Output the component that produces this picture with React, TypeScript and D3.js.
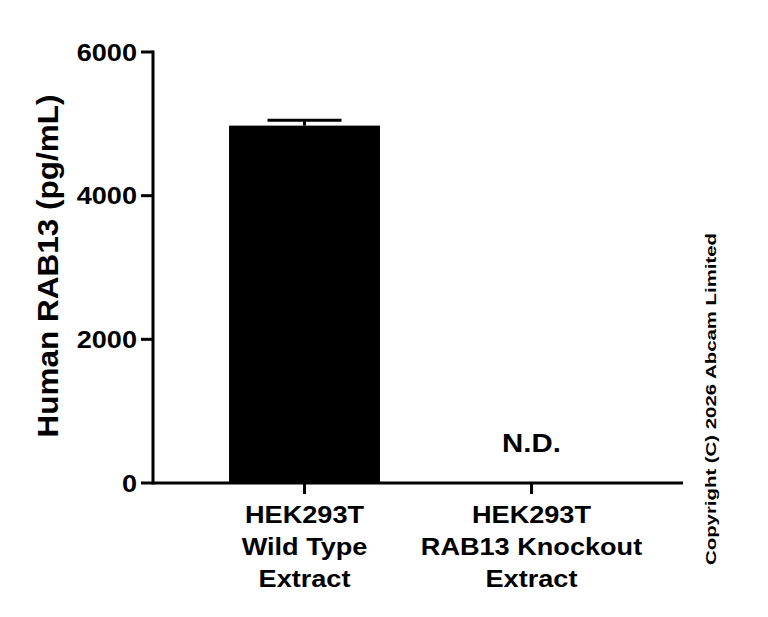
import React from "react";
import * as d3 from "d3";

const categories = ["HEK293T Wild Type Extract", "HEK293T RAB13 Knockout Extract"];
const labelLines = [
  ["HEK293T", "Wild Type", "Extract"],
  ["HEK293T", "RAB13 Knockout", "Extract"],
];
const means: (number | null)[] = [4975, null];
const sds: (number | null)[] = [75, null];
const yTicks = [0, 2000, 4000, 6000];
const yTitle = "Human RAB13 (pg/mL)";
const notDetected = "N.D.";
const copyright = "Copyright (C) 2026 Abcam Limited";

const W = 768;
const H = 617;
const FONT = "'Liberation Sans', Arial, Helvetica, sans-serif";
const SX = 1.13;

export default function App() {
  const y = d3.scaleLinear().domain([0, 6000]).range([483, 52]);
  const x = d3
    .scaleBand<string>()
    .domain(categories)
    .range([153, 683])
    .paddingInner(0.335)
    .paddingOuter(0.335);
  const bw = x.bandwidth();

  return (
    <svg
      width={W}
      height={H}
      style={{ position: "absolute", left: 0, top: 0, background: "#fff" }}
      fontFamily={FONT}
      fontWeight="bold"
    >
      <rect width={W} height={H} fill="#fff" />
      {/* bars */}
      {categories.map((c, i) => {
        const m = means[i];
        const cx = (x(c) as number) + bw / 2;
        if (m == null) {
          return (
            <text
              key={c}
              transform={`translate(${cx},452) scale(${SX},1)`}
              textAnchor="middle"
              fontSize={26}
              fill="#000"
            >
              {notDetected}
            </text>
          );
        }
        const sd = sds[i] ?? 0;
        return (
          <g key={c}>
            <rect x={x(c)} y={y(m)} width={bw} height={y(0) - y(m)} fill="#000" />
            <line x1={cx} x2={cx} y1={y(m)} y2={y(m + sd)} stroke="#000" strokeWidth={3} />
            <line x1={cx - 37} x2={cx + 37} y1={y(m + sd)} y2={y(m + sd)} stroke="#000" strokeWidth={3} />
          </g>
        );
      })}
      {/* y axis */}
      <line x1={153} x2={153} y1={y(6000) - 1.5} y2={y(0) + 1.5} stroke="#000" strokeWidth={3} />
      {yTicks.map((t) => (
        <g key={t}>
          <line x1={141} x2={153} y1={y(t)} y2={y(t)} stroke="#000" strokeWidth={3} />
          <text
            transform={`translate(137,${y(t) + 8.5}) scale(${SX},1)`}
            textAnchor="end"
            fontSize={24}
            fill="#000"
          >
            {t}
          </text>
        </g>
      ))}
      {/* x axis */}
      <line x1={153} x2={683} y1={y(0)} y2={y(0)} stroke="#000" strokeWidth={3} />
      {categories.map((c, i) => {
        const cx = (x(c) as number) + bw / 2;
        return (
          <g key={c}>
            <line x1={cx} x2={cx} y1={y(0)} y2={y(0) + 11} stroke="#000" strokeWidth={3} />
            {labelLines[i].map((ln, j) => (
              <text
                key={j}
                transform={`translate(${cx},${y(0) + 40 + j * 32}) scale(${SX},1)`}
                textAnchor="middle"
                fontSize={24}
                fill="#000"
              >
                {ln}
              </text>
            ))}
          </g>
        );
      })}
      {/* y title */}
      <text
        transform="translate(58,266) rotate(-90)"
        textAnchor="middle"
        fontSize={30}
        textLength={343}
        lengthAdjust="spacingAndGlyphs"
        fill="#000"
      >
        {yTitle}
      </text>
      {/* copyright */}
      <text
        transform="translate(716,399) rotate(-90)"
        textAnchor="middle"
        fontSize={15}
        textLength={332}
        lengthAdjust="spacingAndGlyphs"
        fill="#000"
      >
        {copyright}
      </text>
    </svg>
  );
}
